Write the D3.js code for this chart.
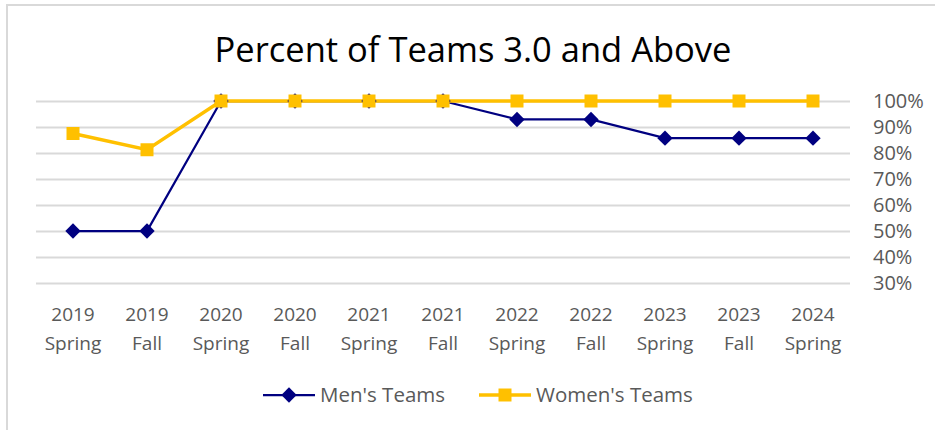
<!DOCTYPE html>
<html>
<head>
<meta charset="utf-8">
<script src="https://cdn.jsdelivr.net/npm/d3@7"></script>
<style>
  body { margin: 0; background: #fff; }
  svg { display: block; }
</style>
</head>
<body>
<svg id="chart" width="935" height="430"></svg>
<script>
(() => {
  /* ---------- DATA ---------- */
  const terms = [
    ["2019", "Spring"], ["2019", "Fall"], ["2020", "Spring"], ["2020", "Fall"],
    ["2021", "Spring"], ["2021", "Fall"], ["2022", "Spring"], ["2022", "Fall"],
    ["2023", "Spring"], ["2023", "Fall"], ["2024", "Spring"]
  ];
  const mensTeams = [50, 50, 100, 100, 100, 100, 92.9, 92.9, 85.7, 85.7, 85.7];
  const womensTeams = [87.5, 81.25, 100, 100, 100, 100, 100, 100, 100, 100, 100];
  const yTicks = [30, 40, 50, 60, 70, 80, 90, 100];

  const NAVY = "#000080";
  const GOLD = "#FFC000";
  const FONT = "'Open Sans', 'Noto Sans', sans-serif";

  const svg = d3.select("#chart");

  // frame (only top + left visible)
  svg.append("path")
    .attr("d", "M7,432 V5 H937")
    .attr("fill", "none")
    .attr("stroke", "#d9d9d9")
    .attr("stroke-width", 2);

  const plot = { left: 36, right: 850, top: 101, bottom: 283 };

  const x = d3.scaleBand()
    .domain(d3.range(terms.length))
    .range([plot.left, plot.right]);

  const y = d3.scaleLinear()
    .domain([30, 100])
    .range([plot.bottom, plot.top]);

  /* ---------- TITLE ---------- */
  svg.append("text")
    .attr("x", 473)
    .attr("y", 62)
    .attr("text-anchor", "middle")
    .attr("font-family", FONT)
    .attr("font-size", 34.5)
    .attr("fill", "#000")
    .text("Percent of Teams 3.0 and Above");

  /* ---------- GRID + Y AXIS ---------- */
  const yAxis = svg.append("g")
    .attr("transform", `translate(${plot.right},0)`)
    .call(d3.axisRight(y)
      .tickValues(yTicks)
      .tickSize(-(plot.right - plot.left))
      .tickPadding(23)
      .tickFormat(d => d + "%"))
    .call(g => g.select(".domain").remove());

  yAxis.selectAll("line")
    .attr("stroke", "#d9d9d9")
    .attr("stroke-width", 2);
  yAxis.selectAll("text")
    .attr("font-family", FONT)
    .attr("font-size", 20)
    .attr("fill", "#595959");

  /* ---------- X AXIS LABELS ---------- */
  const xl = svg.append("g").selectAll("text")
    .data(terms)
    .join("text")
    .attr("x", (d, i) => x(i) + x.bandwidth() / 2)
    .attr("text-anchor", "middle")
    .attr("font-family", FONT)
    .attr("font-size", 19)
    .attr("fill", "#595959");
  xl.append("tspan")
    .attr("x", (d, i) => x(i) + x.bandwidth() / 2)
    .attr("y", 321)
    .text(d => d[0]);
  xl.append("tspan")
    .attr("x", (d, i) => x(i) + x.bandwidth() / 2)
    .attr("y", 350)
    .text(d => d[1]);

  /* ---------- LINES ---------- */
  const cx = i => x(i) + x.bandwidth() / 2;
  const line = d3.line().x((d, i) => cx(i)).y(d => y(d));

  const diamond = d3.symbol().type(d3.symbolDiamond2).size(150);
  const square = d3.symbol().type(d3.symbolSquare).size(169);

  svg.append("path")
    .attr("d", line(mensTeams))
    .attr("fill", "none")
    .attr("stroke", NAVY)
    .attr("stroke-width", 2.25);

  svg.append("path")
    .attr("d", line(womensTeams))
    .attr("fill", "none")
    .attr("stroke", GOLD)
    .attr("stroke-width", 3.5);

  svg.append("g").selectAll("path")
    .data(mensTeams)
    .join("path")
    .attr("transform", (d, i) => `translate(${cx(i)},${y(d)})`)
    .attr("d", diamond)
    .attr("fill", NAVY);

  svg.append("g").selectAll("path")
    .data(womensTeams)
    .join("path")
    .attr("transform", (d, i) => `translate(${cx(i)},${y(d)})`)
    .attr("d", square)
    .attr("fill", GOLD);

  /* ---------- LEGEND ---------- */
  const legend = [
    { label: "Men's Teams", color: NAVY, width: 2.25, sym: diamond, x: 263 },
    { label: "Women's Teams", color: GOLD, width: 3.5, sym: square, x: 479 }
  ];
  const lg = svg.append("g").selectAll("g")
    .data(legend)
    .join("g")
    .attr("transform", d => `translate(${d.x},395)`);
  lg.append("line")
    .attr("x1", 0).attr("x2", 52)
    .attr("stroke", d => d.color)
    .attr("stroke-width", d => d.width);
  lg.append("path")
    .attr("transform", "translate(26,0)")
    .attr("d", d => d.sym())
    .attr("fill", d => d.color);
  lg.append("text")
    .attr("x", 57)
    .attr("y", 7)
    .attr("font-family", FONT)
    .attr("font-size", 20.5)
    .attr("fill", "#595959")
    .text(d => d.label);
})();
</script>
</body>
</html>
